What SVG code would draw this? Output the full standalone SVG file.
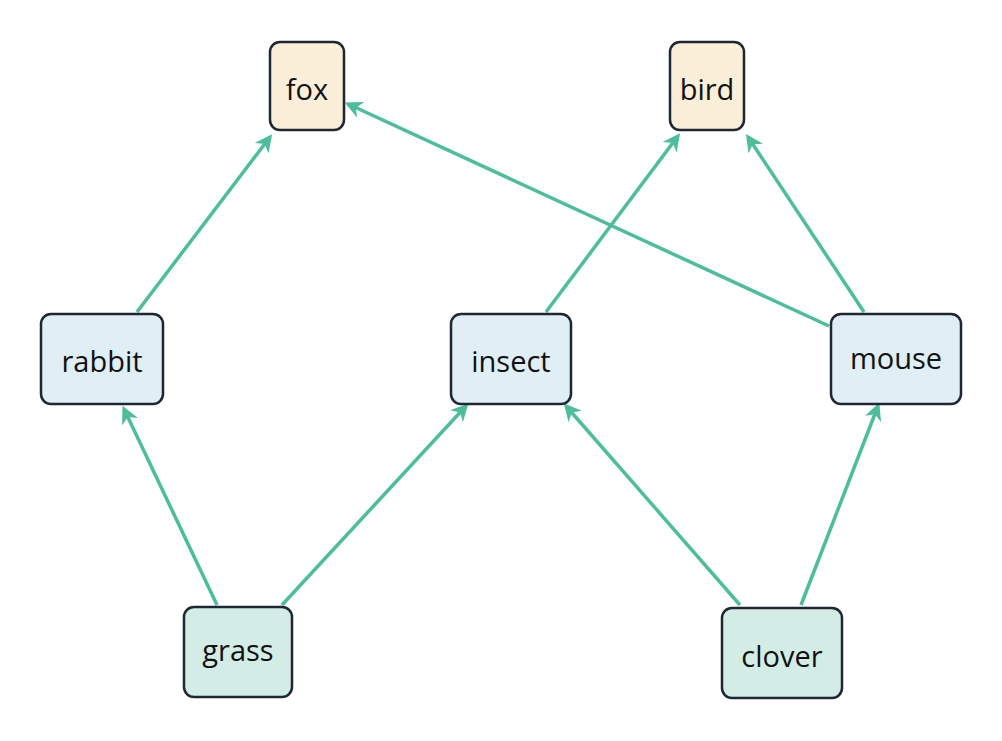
<svg xmlns="http://www.w3.org/2000/svg" width="1002" height="741" viewBox="0 0 1002 741">
<style>
.n rect{stroke:#1f2733;stroke-width:2.5}
.t{fill:#e0eef6}.p{fill:#fbefd9}.g{fill:#d3ede6}
text{font-family:"Open Sans","Liberation Sans",sans-serif;font-size:29px;fill:#111;text-anchor:middle;dominant-baseline:central}
.e line{stroke:#4dbd9c;stroke-width:3.5;marker-end:url(#a)}
</style>
<defs><marker id="a" viewBox="0 0 10 10" refX="8" refY="5" markerWidth="5" markerHeight="5" orient="auto" markerUnits="strokeWidth"><path d="M0,0 L10,5 L0,10 L3,5 Z" fill="#4dbd9c"/></marker></defs>
<rect width="1002" height="741" fill="#fff"/>
<g class="e">
<line x1="137" y1="312" x2="270" y2="137"/>
<line x1="829" y1="326" x2="348" y2="104"/>
<line x1="546" y1="312" x2="678" y2="136"/>
<line x1="864" y1="312" x2="748" y2="137"/>
<line x1="217" y1="605" x2="124" y2="409"/>
<line x1="282" y1="605" x2="466" y2="406"/>
<line x1="740" y1="605" x2="566" y2="406"/>
<line x1="801" y1="605" x2="878" y2="406"/>
</g>
<g id="fox" class="n"><rect class="p" x="270" y="42" width="74" height="88" rx="10"/><text x="307" y="88">fox</text></g>
<g id="bird" class="n"><rect class="p" x="670" y="42" width="74" height="88" rx="10"/><text x="707" y="88">bird</text></g>
<g id="rabbit" class="n"><rect class="t" x="41" y="314" width="122" height="90" rx="10"/><text x="102" y="360">rabbit</text></g>
<g id="insect" class="n"><rect class="t" x="451" y="314" width="120" height="90" rx="10"/><text x="511" y="360">insect</text></g>
<g id="mouse" class="n"><rect class="t" x="831" y="314" width="130" height="90" rx="10"/><text x="896" y="357">mouse</text></g>
<g id="grass" class="n"><rect class="g" x="184" y="607" width="108" height="90" rx="10"/><text x="238" y="649">grass</text></g>
<g id="clover" class="n"><rect class="g" x="722" y="608" width="120" height="90" rx="10"/><text x="782" y="655">clover</text></g>
</svg>
